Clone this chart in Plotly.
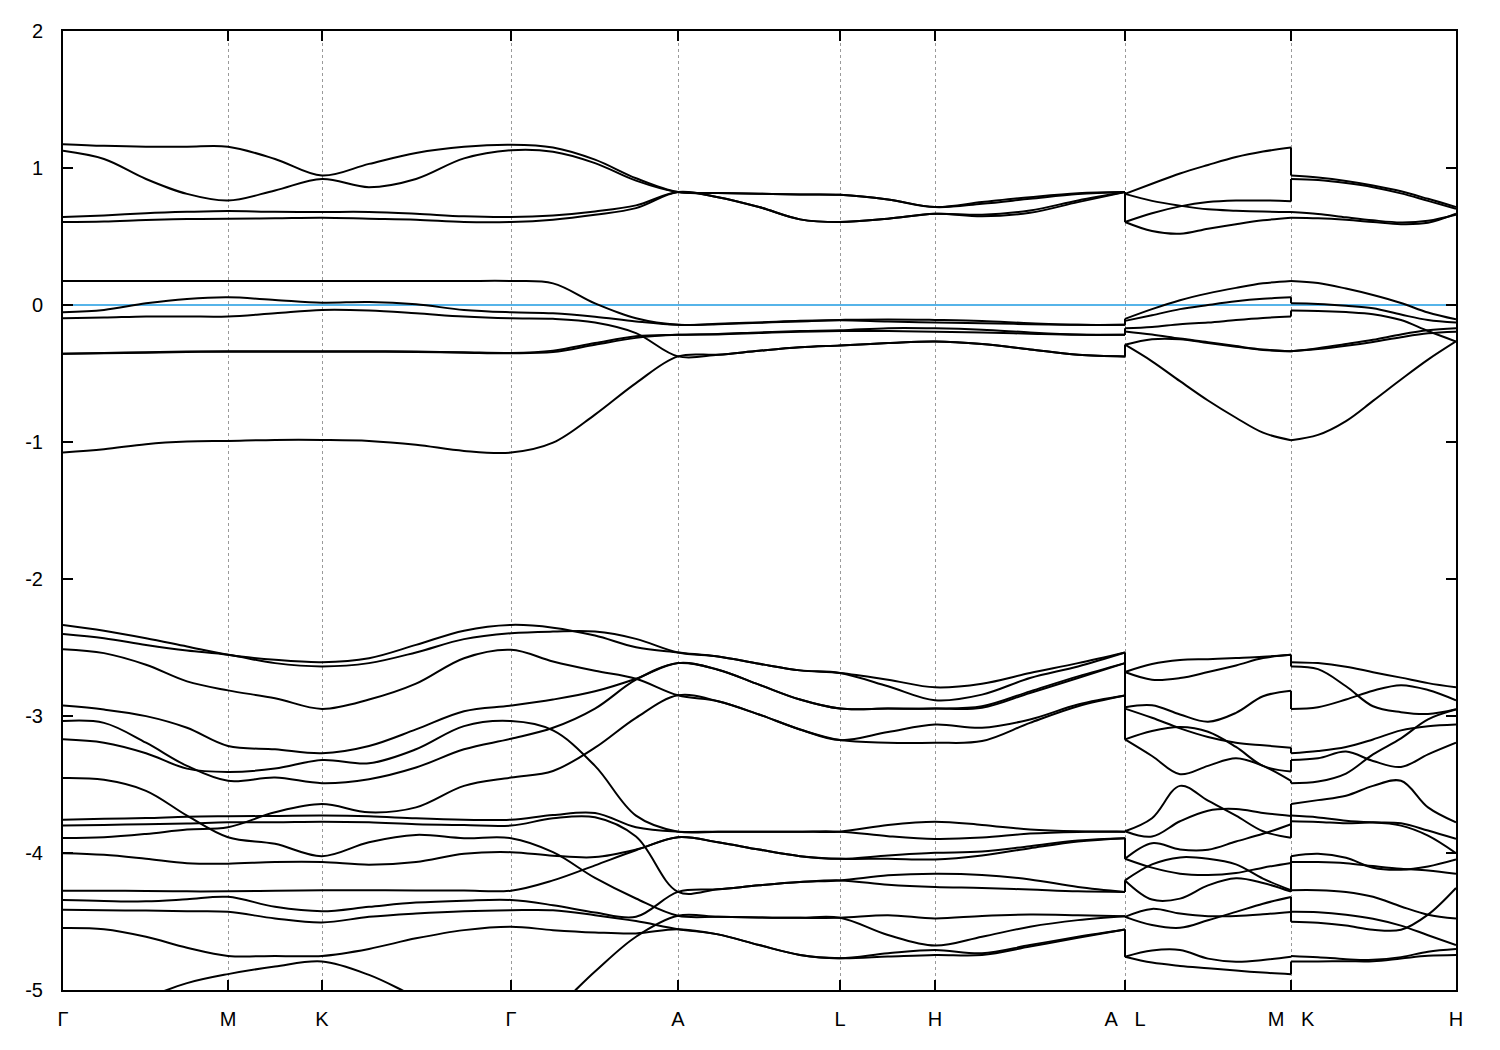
import plotly.graph_objects as go

# ---------------- k-path (high-symmetry points) ----------------
HS_POS = [0.0, 0.165, 0.259, 0.448, 0.615, 0.777, 0.872, 1.062, 1.228, 1.393]
HS_LABELS = ["Γ", "M", "K", "Γ", "A", "L", "H", "A\u00a0\u00a0\u00a0L", "M\u00a0\u00a0\u00a0K", "H"]

# sampled k positions of the three continuous path pieces
K_A = [0.000, 0.041, 0.083, 0.124, 0.165, 0.212, 0.259, 0.306, 0.353, 0.401, 0.448,
       0.490, 0.532, 0.573, 0.615, 0.655, 0.696, 0.737, 0.777, 0.825, 0.872,
       0.919, 0.967, 1.015, 1.062]           # Γ-M-K-Γ-A-L-H-A
K_B = [1.062, 1.089, 1.117, 1.145, 1.173, 1.200, 1.228]   # L-M
K_C = [1.228, 1.255, 1.283, 1.310, 1.338, 1.365, 1.393]   # K-H

E_FERMI = 0.0
Y_TICKS = [-5, -4, -3, -2, -1, 0, 1, 2]

# ---------------- bands near the Fermi level (eV) ----------------
T1 = [1.174, 1.162, 1.155, 1.155, 1.155, 1.066, 0.945, 1.03, 1.11, 1.155, 1.17, 1.15, 1.061, 0.925, 0.824, 0.818, 0.812, 0.807, 0.804, 0.77, 0.715, 0.751, 0.787, 0.816, 0.824]
T2 = [1.126, 1.066, 0.92, 0.811, 0.763, 0.836, 0.92, 0.86, 0.92, 1.07, 1.13, 1.119, 1.036, 0.908, 0.824, 0.818, 0.812, 0.807, 0.804, 0.77, 0.715, 0.739, 0.775, 0.81, 0.824]
T3 = [0.642, 0.654, 0.67, 0.68, 0.686, 0.68, 0.679, 0.679, 0.666, 0.647, 0.642, 0.654, 0.683, 0.727, 0.824, 0.787, 0.715, 0.625, 0.606, 0.63, 0.666, 0.659, 0.69, 0.763, 0.824]
T4 = [0.606, 0.61, 0.62, 0.627, 0.63, 0.633, 0.637, 0.63, 0.623, 0.606, 0.606, 0.623, 0.659, 0.707, 0.824, 0.787, 0.715, 0.625, 0.606, 0.63, 0.666, 0.647, 0.673, 0.751, 0.824]
T5 = [0.175, 0.175, 0.175, 0.175, 0.175, 0.175, 0.175, 0.175, 0.175, 0.175, 0.175, 0.158, 0.012, -0.097, -0.145, -0.137, -0.127, -0.115, -0.109, -0.105, -0.109, -0.116, -0.133, -0.145, -0.145]
T6 = [-0.053, -0.036, 0.012, 0.044, 0.056, 0.037, 0.017, 0.022, 0.005, -0.036, -0.053, -0.06, -0.085, -0.12, -0.145, -0.14, -0.13, -0.12, -0.112, -0.121, -0.128, -0.133, -0.14, -0.145, -0.145]
T7 = [-0.097, -0.092, -0.084, -0.084, -0.084, -0.06, -0.036, -0.04, -0.06, -0.084, -0.097, -0.101, -0.128, -0.205, -0.375, -0.363, -0.334, -0.309, -0.295, -0.278, -0.266, -0.285, -0.324, -0.363, -0.375]
T8 = [-0.355, -0.35, -0.345, -0.34, -0.338, -0.338, -0.338, -0.338, -0.34, -0.345, -0.35, -0.333, -0.278, -0.229, -0.218, -0.212, -0.2, -0.19, -0.185, -0.169, -0.17, -0.18, -0.2, -0.215, -0.218]
T9 = [-0.355, -0.352, -0.348, -0.343, -0.341, -0.341, -0.341, -0.341, -0.343, -0.348, -0.352, -0.343, -0.29, -0.24, -0.218, -0.215, -0.205, -0.195, -0.19, -0.19, -0.195, -0.2, -0.21, -0.218, -0.218]
T10 = [-1.077, -1.053, -1.016, -0.997, -0.992, -0.985, -0.985, -0.992, -1.02, -1.065, -1.077, -1.005, -0.80, -0.57, -0.375, -0.363, -0.334, -0.309, -0.295, -0.278, -0.266, -0.285, -0.324, -0.363, -0.375]

TB1 = [0.811, 0.885, 0.96, 1.022, 1.08, 1.12, 1.15]
TB2 = [0.811, 0.76, 0.725, 0.698, 0.688, 0.682, 0.679]
TB3 = [0.606, 0.67, 0.72, 0.751, 0.762, 0.763, 0.758]
TB4 = [0.606, 0.54, 0.52, 0.557, 0.59, 0.618, 0.637]
TB5 = [-0.101, -0.03, 0.035, 0.085, 0.125, 0.158, 0.175]
TB6 = [-0.116, -0.075, -0.03, 0.0, 0.027, 0.045, 0.056]
TB7 = [-0.169, -0.16, -0.14, -0.128, -0.11, -0.095, -0.084]
TB8 = [-0.193, -0.215, -0.245, -0.271, -0.3, -0.325, -0.338]
TB9 = [-0.29, -0.25, -0.25, -0.278, -0.305, -0.328, -0.338]
TB10 = [-0.29, -0.411, -0.556, -0.697, -0.823, -0.932, -0.987]

TC1 = [0.945, 0.93, 0.905, 0.872, 0.83, 0.775, 0.715]
TC2 = [0.92, 0.912, 0.89, 0.86, 0.815, 0.76, 0.703]
TC3 = [0.679, 0.665, 0.64, 0.618, 0.603, 0.615, 0.659]
TC4 = [0.637, 0.633, 0.622, 0.606, 0.59, 0.6, 0.666]
TC5 = [0.175, 0.16, 0.12, 0.073, 0.015, -0.055, -0.105]
TC6 = [0.012, 0.008, -0.005, -0.024, -0.07, -0.11, -0.128]
TC7 = [-0.04, -0.043, -0.052, -0.067, -0.11, -0.19, -0.266]
TC8 = [-0.338, -0.315, -0.285, -0.254, -0.215, -0.185, -0.17]
TC9 = [-0.338, -0.322, -0.298, -0.27, -0.235, -0.207, -0.195]
TC10 = [-0.987, -0.948, -0.847, -0.70, -0.544, -0.399, -0.266]

# ---------------- lower valence bands (eV) ----------------
L1 = [-2.335, -2.377, -2.432, -2.493, -2.553, -2.59, -2.607, -2.578, -2.481, -2.377, -2.335, -2.355, -2.413, -2.498, -2.536, -2.566, -2.619, -2.667, -2.686, -2.735, -2.791, -2.764, -2.686, -2.614, -2.536]
L2 = [-2.401, -2.432, -2.481, -2.522, -2.553, -2.614, -2.638, -2.614, -2.536, -2.439, -2.396, -2.384, -2.384, -2.437, -2.536, -2.566, -2.619, -2.667, -2.686, -2.783, -2.885, -2.844, -2.723, -2.638, -2.536]
L3 = [-2.512, -2.541, -2.626, -2.747, -2.813, -2.87, -2.948, -2.88, -2.764, -2.578, -2.517, -2.602, -2.67, -2.728, -2.849, -2.892, -2.989, -3.098, -3.176, -3.117, -3.062, -3.086, -3.025, -2.916, -2.851]
L4 = [-2.924, -2.953, -3.001, -3.086, -3.219, -3.243, -3.272, -3.219, -3.098, -2.965, -2.924, -2.88, -2.82, -2.728, -2.614, -2.662, -2.771, -2.88, -2.946, -2.946, -2.946, -2.929, -2.82, -2.711, -2.614]
L5 = [-3.037, -3.05, -3.195, -3.364, -3.473, -3.449, -3.49, -3.461, -3.376, -3.243, -3.166, -3.086, -2.946, -2.735, -2.614, -2.662, -2.771, -2.88, -2.946, -2.946, -2.946, -2.94, -2.832, -2.723, -2.614]
L6 = [-3.170, -3.195, -3.272, -3.384, -3.408, -3.384, -3.321, -3.345, -3.243, -3.074, -3.037, -3.105, -3.364, -3.727, -3.844, -3.844, -3.844, -3.844, -3.844, -3.795, -3.771, -3.795, -3.829, -3.842, -3.844]
L7 = [-3.453, -3.466, -3.546, -3.727, -3.885, -3.933, -4.023, -3.921, -3.868, -3.892, -3.892, -3.994, -4.182, -4.332, -4.458, -4.466, -4.471, -4.473, -4.473, -4.454, -4.478, -4.459, -4.449, -4.454, -4.461]
L8 = [-3.757, -3.75, -3.745, -3.735, -3.732, -3.73, -3.727, -3.732, -3.747, -3.757, -3.757, -3.723, -3.708, -3.812, -3.844, -3.844, -3.844, -3.844, -3.844, -3.877, -3.897, -3.887, -3.858, -3.846, -3.844]
L9 = [-3.80, -3.795, -3.79, -3.785, -3.776, -3.775, -3.771, -3.776, -3.79, -3.796, -3.80, -3.747, -3.739, -3.88, -4.284, -4.265, -4.236, -4.212, -4.2, -4.163, -4.151, -4.16, -4.193, -4.248, -4.284]
L10 = [-3.89, -3.885, -3.861, -3.829, -3.812, -3.703, -3.643, -3.703, -3.667, -3.51, -3.449, -3.401, -3.231, -3.013, -2.849, -2.892, -2.989, -3.098, -3.176, -3.195, -3.195, -3.183, -3.05, -2.929, -2.851]
L11 = [-4.001, -4.013, -4.042, -4.074, -4.078, -4.066, -4.066, -4.086, -4.066, -4.006, -3.994, -4.02, -4.03, -3.975, -3.885, -3.921, -3.975, -4.023, -4.042, -4.018, -3.999, -3.989, -3.95, -3.909, -3.892]
L12 = [-4.275, -4.275, -4.278, -4.28, -4.28, -4.275, -4.272, -4.272, -4.273, -4.274, -4.275, -4.2, -4.09, -3.98, -3.885, -3.921, -3.975, -4.023, -4.042, -4.042, -4.047, -4.018, -3.965, -3.916, -3.892]
L13 = [-4.343, -4.35, -4.353, -4.338, -4.32, -4.393, -4.425, -4.393, -4.362, -4.348, -4.343, -4.381, -4.434, -4.466, -4.284, -4.265, -4.236, -4.212, -4.2, -4.231, -4.248, -4.255, -4.267, -4.28, -4.284]
L14 = [-4.415, -4.418, -4.42, -4.425, -4.429, -4.478, -4.507, -4.466, -4.442, -4.425, -4.418, -4.418, -4.454, -4.497, -4.556, -4.594, -4.672, -4.744, -4.768, -4.732, -4.708, -4.732, -4.672, -4.611, -4.558]
L15 = [-4.547, -4.556, -4.611, -4.691, -4.751, -4.751, -4.751, -4.7, -4.623, -4.563, -4.538, -4.563, -4.58, -4.587, -4.556, -4.594, -4.672, -4.744, -4.768, -4.756, -4.744, -4.744, -4.683, -4.618, -4.558]
L16 = [-5.35, -5.2, -5.06, -4.95, -4.884, -4.829, -4.792, -4.89, -5.05, -5.2, -5.35, -5.15, -4.865, -4.611, -4.458, -4.466, -4.471, -4.473, -4.473, -4.599, -4.676, -4.611, -4.538, -4.49, -4.461]

B1 = [-2.679, -2.621, -2.592, -2.585, -2.577, -2.568, -2.553]
B2 = [-2.679, -2.735, -2.723, -2.679, -2.631, -2.577, -2.553]
B3 = [-2.936, -2.921, -2.989, -3.042, -2.977, -2.856, -2.815]
B4 = [-2.946, -3.013, -3.090, -3.153, -3.195, -3.214, -3.231]
B5 = [-3.171, -3.110, -3.081, -3.115, -3.226, -3.364, -3.405]
B6 = [-3.171, -3.292, -3.425, -3.364, -3.309, -3.364, -3.473]
B7 = [-3.841, -3.746, -3.51, -3.618, -3.727, -3.841, -3.889]
B8 = [-3.841, -3.880, -3.768, -3.691, -3.679, -3.708, -3.730]
B9 = [-4.042, -3.928, -3.974, -3.976, -3.916, -3.860, -3.790]
B10 = [-4.042, -4.107, -4.151, -4.161, -4.146, -4.107, -4.073]
B11 = [-4.2, -4.083, -4.032, -4.042, -4.083, -4.187, -4.272]
B12 = [-4.2, -4.340, -4.333, -4.236, -4.185, -4.219, -4.282]
B13 = [-4.466, -4.408, -4.442, -4.461, -4.459, -4.447, -4.430]
B14 = [-4.466, -4.526, -4.546, -4.491, -4.430, -4.370, -4.321]
B15 = [-4.757, -4.712, -4.708, -4.771, -4.793, -4.781, -4.757]
B16 = [-4.757, -4.800, -4.824, -4.841, -4.858, -4.873, -4.885]

C1 = [-2.607, -2.614, -2.64, -2.68, -2.72, -2.76, -2.791]
C2 = [-2.638, -2.658, -2.783, -2.929, -2.972, -2.985, -2.95]
C3 = [-2.948, -2.936, -2.88, -2.815, -2.775, -2.81, -2.885]
C4 = [-3.272, -3.255, -3.226, -3.171, -3.105, -3.075, -3.062]
C5 = [-3.321, -3.309, -3.260, -3.328, -3.372, -3.280, -3.195]
C6 = [-3.490, -3.478, -3.420, -3.280, -3.163, -3.025, -2.953]
C7 = [-3.643, -3.614, -3.582, -3.51, -3.473, -3.667, -3.776]
C8 = [-3.727, -3.740, -3.764, -3.776, -3.783, -3.836, -3.897]
C9 = [-3.769, -3.773, -3.783, -3.778, -3.800, -3.873, -4.001]
C10 = [-4.023, -4.006, -4.035, -4.108, -4.122, -4.098, -4.047]
C11 = [-4.066, -4.066, -4.074, -4.095, -4.115, -4.127, -4.151]
C12 = [-4.272, -4.272, -4.285, -4.32, -4.39, -4.45, -4.478]
C13 = [-4.429, -4.432, -4.45, -4.48, -4.53, -4.60, -4.672]
C14 = [-4.502, -4.51, -4.53, -4.56, -4.56, -4.45, -4.255]
C15 = [-4.751, -4.761, -4.775, -4.78, -4.76, -4.72, -4.70]
C16 = [-4.792, -4.792, -4.79, -4.79, -4.77, -4.75, -4.744]

PIECE_A = [T1, T2, T3, T4, T5, T6, T7, T8, T9, T10,
           L1, L2, L3, L4, L5, L6, L7, L8, L9, L10, L11, L12, L13, L14, L15, L16]
PIECE_B = [TB1, TB2, TB3, TB4, TB5, TB6, TB7, TB8, TB9, TB10,
           B1, B2, B3, B4, B5, B6, B7, B8, B9, B10, B11, B12, B13, B14, B15, B16]
PIECE_C = [TC1, TC2, TC3, TC4, TC5, TC6, TC7, TC8, TC9, TC10,
           C1, C2, C3, C4, C5, C6, C7, C8, C9, C10, C11, C12, C13, C14, C15, C16]

LINE_W = 2.0

fig = go.Figure()

# Fermi level
fig.add_trace(go.Scatter(x=[K_A[0], K_C[-1]], y=[E_FERMI, E_FERMI], mode="lines",
                         line=dict(color="#56B4E9", width=2), hoverinfo="skip"))

for kx, piece in ((K_A, PIECE_A), (K_B, PIECE_B), (K_C, PIECE_C)):
    for band in piece:
        fig.add_trace(go.Scatter(x=kx, y=band, mode="lines",
                                 line=dict(color="black", width=LINE_W, shape="spline", smoothing=1.0),
                                 hoverinfo="skip"))

# vertical connections at the path discontinuities (bands sorted by energy)
def jump_trace(xpos, ends, starts):
    xs, ys = [], []
    for a, b in zip(sorted(ends), sorted(starts)):
        xs += [xpos, xpos, None]
        ys += [a, b, None]
    return go.Scatter(x=xs, y=ys, mode="lines", line=dict(color="black", width=LINE_W),
                      hoverinfo="skip")

fig.add_trace(jump_trace(K_A[-1], [b[-1] for b in PIECE_A], [b[0] for b in PIECE_B]))
fig.add_trace(jump_trace(K_B[-1], [b[-1] for b in PIECE_B], [b[0] for b in PIECE_C]))

# the page adds an 8px body margin, so the figure is sized to fit the window
fig.update_layout(
    width=1484, height=1034,
    margin=dict(l=55, r=36, t=20, b=50),
    paper_bgcolor="white", plot_bgcolor="white",
    showlegend=False,
    font=dict(family="Liberation Sans, Arial, sans-serif", size=20, color="black"),
)
fig.update_xaxes(
    range=[HS_POS[0], HS_POS[-1]],
    tickmode="array", tickvals=HS_POS, ticktext=HS_LABELS,
    ticks="inside", ticklen=10, tickwidth=1.5, tickcolor="black",
    showline=True, linecolor="black", linewidth=2, mirror="ticks",
    showgrid=True, gridcolor="#9a9a9a", gridwidth=1, griddash="3px,3px",
    zeroline=False, ticklabelstandoff=10,
)
fig.update_yaxes(
    range=[-5, 2],
    tickmode="array", tickvals=Y_TICKS, ticktext=[str(v) for v in Y_TICKS],
    ticks="inside", ticklen=10, tickwidth=1.5, tickcolor="black",
    showline=True, linecolor="black", linewidth=2, mirror="ticks",
    showgrid=False, zeroline=False, ticklabelstandoff=14,
)

fig.write_html("out.html")
